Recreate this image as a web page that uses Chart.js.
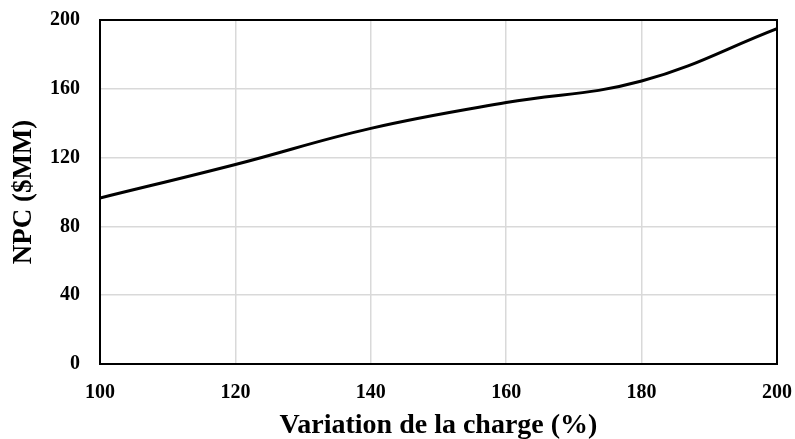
<!DOCTYPE html>
<html>
<head>
<meta charset="utf-8">
<script src="https://cdn.jsdelivr.net/npm/chart.js@4/dist/chart.umd.min.js"></script>
<style>
  html, body { margin: 0; padding: 0; background: #fff; }
  #wrap { width: 795px; height: 439px; position: relative; }
</style>
</head>
<body>
<div id="wrap"><canvas id="c"></canvas></div>
<script>
// load variation (%) vs NPC ($MM)
const loadVariation = [100, 120, 140, 160, 180, 200];
const npcValues = [96.5, 116, 137, 152, 164.5, 195];
const xTicks = [100, 120, 140, 160, 180, 200];
const yTicks = [0, 40, 80, 120, 160, 200];

const FONT = "'Liberation Serif', 'Times New Roman', serif";

// black frame around the plot area, like the Excel original
const frame = {
  id: "frame",
  afterDatasetsDraw(chart) {
    const { ctx, chartArea: a } = chart;
    ctx.save();
    ctx.strokeStyle = "#000";
    ctx.lineWidth = 2;
    ctx.strokeRect(a.left, a.top, a.right - a.left, a.bottom - a.top);
    ctx.restore();
  },
};

new Chart(document.getElementById("c"), {
  type: "line",
  data: {
    datasets: [
      {
        data: loadVariation.map((x, i) => ({ x, y: npcValues[i] })),
        borderColor: "#000",
        borderWidth: 3,
        pointRadius: 0,
        tension: 0.4,
        fill: false,
      },
    ],
  },
  plugins: [frame],
  options: {
    responsive: true,
    maintainAspectRatio: false,
    animation: false,
    layout: { padding: { top: 20, right: 18, left: 0, bottom: 0 } },
    plugins: { legend: { display: false }, tooltip: { enabled: false } },
    scales: {
      x: {
        type: "linear",
        min: xTicks[0],
        max: xTicks[xTicks.length - 1],
        afterBuildTicks: (s) => { s.ticks = xTicks.map((v) => ({ value: v })); },
        afterFit: (s) => {
          s.height = 75;
          s.paddingLeft = 0;
          s.paddingRight = 0;
        },
        grid: { color: "#d9d9d9", lineWidth: 1.5, drawTicks: false },
        border: { display: false },
        ticks: { color: "#000", padding: 17, maxRotation: 0, font: { family: FONT, size: 20, weight: "bold" } },
        title: {
          display: true,
          text: "Variation de la charge (%)",
          color: "#000",
          padding: { top: 7, bottom: -4 },
          font: { family: FONT, size: 28, weight: "bold" },
        },
      },
      y: {
        min: yTicks[0],
        max: yTicks[yTicks.length - 1],
        afterBuildTicks: (s) => { s.ticks = yTicks.map((v) => ({ value: v })); },
        afterFit: (s) => {
          s.width = 100;
          s.paddingTop = 0;
          s.paddingBottom = 0;
        },
        grid: { color: "#d9d9d9", lineWidth: 1.5, drawTicks: false },
        border: { display: false },
        ticks: { color: "#000", padding: 20, font: { family: FONT, size: 20, weight: "bold" } },
        title: {
          display: true,
          text: "NPC ($MM)",
          color: "#000",
          padding: { top: 8, bottom: 0 },
          font: { family: FONT, size: 27, weight: "bold" },
        },
      },
    },
  },
});
</script>
</body>
</html>
